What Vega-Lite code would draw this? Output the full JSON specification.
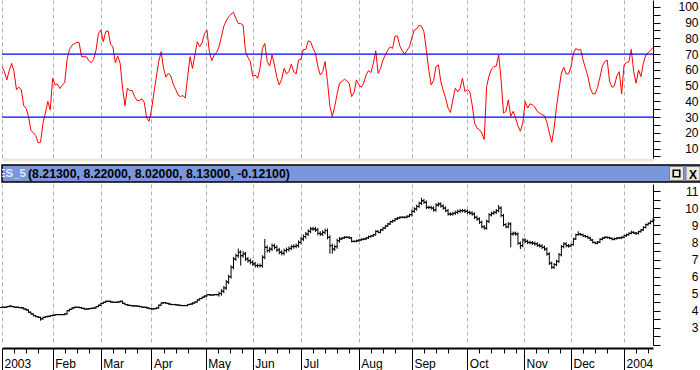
{
"$schema":"https://vega.github.io/schema/vega-lite/v6.json",
"background":"#ffffff",
"padding":0,
"spacing":0,
"config":{"view":{"stroke":null},"axis":{"labelFont":"Liberation Sans","labelFontSize":12,"labelColor":"#000000","domainColor":"#000000","tickColor":"#000000","title":null}},
"datasets":{
"lv":[{"level":70},{"level":30}],
"hdr":[{"name":"ES_5","vals":"(8.21300, 8.22000, 8.02000, 8.13000, -0.12100)","b":"X"}],
"px":[
{"d":0,"r":62,"o":4.2,"h":4.25,"l":4.16,"c":4.21},
{"d":1,"r":58.8,"o":4.21,"h":4.25,"l":4.17,"c":4.21},
{"d":2,"r":53.6,"o":4.21,"h":4.29,"l":4.17,"c":4.25},
{"d":3,"r":59.5,"o":4.25,"h":4.32,"l":4.21,"c":4.28},
{"d":4,"r":64,"o":4.28,"h":4.32,"l":4.21,"c":4.25},
{"d":5,"r":58.8,"o":4.25,"h":4.29,"l":4.17,"c":4.21},
{"d":6,"r":47.3,"o":4.21,"h":4.25,"l":4.17,"c":4.21},
{"d":7,"r":49,"o":4.21,"h":4.25,"l":4.15,"c":4.19},
{"d":8,"r":47.3,"o":4.19,"h":4.23,"l":4.13,"c":4.17},
{"d":9,"r":37.2,"o":4.17,"h":4.21,"l":4.07,"c":4.11},
{"d":10,"r":35.5,"o":4.11,"h":4.15,"l":4.01,"c":4.05},
{"d":11,"r":30.4,"o":4.05,"h":4.09,"l":3.88,"c":3.92},
{"d":12,"r":21.6,"o":3.92,"h":3.96,"l":3.78,"c":3.82},
{"d":13,"r":19.9,"o":3.82,"h":3.86,"l":3.68,"c":3.72},
{"d":14,"r":18.2,"o":3.72,"h":3.76,"l":3.62,"c":3.66},
{"d":15,"r":13.6,"o":3.66,"h":3.7,"l":3.58,"c":3.62},
{"d":16,"r":14,"o":3.62,"h":3.66,"l":3.42,"c":3.53},
{"d":17,"r":26.2,"o":3.53,"h":3.66,"l":3.49,"c":3.62},
{"d":18,"r":32.5,"o":3.62,"h":3.7,"l":3.58,"c":3.66},
{"d":19,"r":39.9,"o":3.66,"h":3.72,"l":3.62,"c":3.68},
{"d":20,"r":34.6,"o":3.68,"h":3.76,"l":3.64,"c":3.72},
{"d":21,"r":54.6,"o":3.72,"h":3.78,"l":3.68,"c":3.74},
{"d":22,"r":50.4,"o":3.74,"h":3.82,"l":3.7,"c":3.78},
{"d":23,"r":51,"o":3.78,"h":3.82,"l":3.74,"c":3.78},
{"d":24,"r":48.1,"o":3.78,"h":3.82,"l":3.74,"c":3.78},
{"d":25,"r":50.2,"o":3.78,"h":3.82,"l":3.74,"c":3.78},
{"d":26,"r":51.9,"o":3.78,"h":3.86,"l":3.74,"c":3.82},
{"d":27,"r":66.6,"o":3.82,"h":4.05,"l":3.78,"c":4.01},
{"d":28,"r":72.9,"o":4.01,"h":4.13,"l":3.97,"c":4.09},
{"d":29,"r":75.5,"o":4.09,"h":4.21,"l":4.05,"c":4.17},
{"d":30,"r":76.5,"o":4.17,"h":4.25,"l":4.13,"c":4.21},
{"d":31,"r":77.4,"o":4.21,"h":4.25,"l":4.17,"c":4.21},
{"d":32,"r":77.2,"o":4.21,"h":4.25,"l":4.15,"c":4.19},
{"d":33,"r":68.3,"o":4.19,"h":4.23,"l":4.11,"c":4.15},
{"d":34,"r":68.3,"o":4.15,"h":4.19,"l":4.07,"c":4.11},
{"d":35,"r":68.3,"o":4.11,"h":4.15,"l":4.07,"c":4.11},
{"d":36,"r":65.8,"o":4.11,"h":4.17,"l":4.07,"c":4.13},
{"d":37,"r":64.5,"o":4.13,"h":4.19,"l":4.09,"c":4.15},
{"d":38,"r":66.6,"o":4.15,"h":4.21,"l":4.11,"c":4.17},
{"d":39,"r":72.5,"o":4.17,"h":4.29,"l":4.13,"c":4.25},
{"d":40,"r":83,"o":4.25,"h":4.37,"l":4.21,"c":4.33},
{"d":41,"r":85.2,"o":4.33,"h":4.48,"l":4.29,"c":4.44},
{"d":42,"r":77.8,"o":4.44,"h":4.54,"l":4.4,"c":4.5},
{"d":43,"r":84.1,"o":4.5,"h":4.6,"l":4.46,"c":4.56},
{"d":44,"r":84.7,"o":4.56,"h":4.6,"l":4.52,"c":4.56},
{"d":45,"r":76.3,"o":4.56,"h":4.6,"l":4.48,"c":4.52},
{"d":46,"r":74.6,"o":4.52,"h":4.56,"l":4.46,"c":4.5},
{"d":47,"r":64.5,"o":4.5,"h":4.54,"l":4.46,"c":4.5},
{"d":48,"r":68.7,"o":4.5,"h":4.56,"l":4.46,"c":4.52},
{"d":49,"r":64.1,"o":4.52,"h":4.6,"l":4.48,"c":4.56},
{"d":50,"r":48.3,"o":4.56,"h":4.6,"l":4.4,"c":4.44},
{"d":51,"r":37.2,"o":4.44,"h":4.48,"l":4.33,"c":4.37},
{"d":52,"r":48.3,"o":4.37,"h":4.41,"l":4.29,"c":4.33},
{"d":53,"r":46.8,"o":4.33,"h":4.37,"l":4.27,"c":4.31},
{"d":54,"r":46.8,"o":4.31,"h":4.35,"l":4.25,"c":4.29},
{"d":55,"r":43,"o":4.29,"h":4.33,"l":4.25,"c":4.29},
{"d":56,"r":40.5,"o":4.29,"h":4.33,"l":4.23,"c":4.27},
{"d":57,"r":40.5,"o":4.27,"h":4.31,"l":4.21,"c":4.25},
{"d":58,"r":41.6,"o":4.25,"h":4.29,"l":4.17,"c":4.21},
{"d":59,"r":39.3,"o":4.21,"h":4.25,"l":4.17,"c":4.21},
{"d":60,"r":29.4,"o":4.21,"h":4.25,"l":4.13,"c":4.17},
{"d":61,"r":27.3,"o":4.17,"h":4.21,"l":4.09,"c":4.13},
{"d":62,"r":34.6,"o":4.13,"h":4.17,"l":4.07,"c":4.11},
{"d":63,"r":45.2,"o":4.11,"h":4.17,"l":4.07,"c":4.13},
{"d":64,"r":55.3,"o":4.13,"h":4.21,"l":4.09,"c":4.17},
{"d":65,"r":65.2,"o":4.17,"h":4.37,"l":4.13,"c":4.33},
{"d":66,"r":71.5,"o":4.33,"h":4.5,"l":4.29,"c":4.46},
{"d":67,"r":60.9,"o":4.46,"h":4.52,"l":4.42,"c":4.48},
{"d":68,"r":55.3,"o":4.48,"h":4.52,"l":4.4,"c":4.44},
{"d":69,"r":57.8,"o":4.44,"h":4.48,"l":4.36,"c":4.4},
{"d":70,"r":56.1,"o":4.4,"h":4.44,"l":4.33,"c":4.37},
{"d":71,"r":51,"o":4.37,"h":4.41,"l":4.33,"c":4.37},
{"d":72,"r":47.7,"o":4.37,"h":4.41,"l":4.31,"c":4.35},
{"d":73,"r":44.1,"o":4.35,"h":4.39,"l":4.29,"c":4.33},
{"d":74,"r":43,"o":4.33,"h":4.37,"l":4.27,"c":4.31},
{"d":75,"r":43.7,"o":4.31,"h":4.35,"l":4.27,"c":4.31},
{"d":76,"r":42,"o":4.31,"h":4.35,"l":4.27,"c":4.31},
{"d":77,"r":55.7,"o":4.31,"h":4.41,"l":4.27,"c":4.37},
{"d":78,"r":68.3,"o":4.37,"h":4.44,"l":4.33,"c":4.4},
{"d":79,"r":60.9,"o":4.4,"h":4.5,"l":4.36,"c":4.46},
{"d":80,"r":69.4,"o":4.46,"h":4.56,"l":4.42,"c":4.52},
{"d":81,"r":77.8,"o":4.52,"h":4.68,"l":4.48,"c":4.64},
{"d":82,"r":74.6,"o":4.64,"h":4.76,"l":4.6,"c":4.72},
{"d":83,"r":77.2,"o":4.72,"h":4.84,"l":4.68,"c":4.8},
{"d":84,"r":83,"o":4.8,"h":4.91,"l":4.76,"c":4.87},
{"d":85,"r":85.2,"o":4.87,"h":4.99,"l":4.83,"c":4.95},
{"d":86,"r":71.5,"o":4.95,"h":4.99,"l":4.89,"c":4.93},
{"d":87,"r":65.8,"o":4.93,"h":4.97,"l":4.89,"c":4.93},
{"d":88,"r":69.4,"o":4.93,"h":4.99,"l":4.89,"c":4.95},
{"d":89,"r":71,"o":4.95,"h":4.99,"l":4.91,"c":4.95},
{"d":90,"r":74.6,"o":4.95,"h":5.13,"l":4.83,"c":5.01},
{"d":91,"r":81,"o":5.01,"h":5.27,"l":4.89,"c":5.15},
{"d":92,"r":87.7,"o":5.15,"h":5.46,"l":5.03,"c":5.34},
{"d":93,"r":91,"o":5.34,"h":5.81,"l":5.22,"c":5.69},
{"d":94,"r":93.6,"o":5.69,"h":6.12,"l":5.57,"c":6},
{"d":95,"r":95.3,"o":6,"h":6.67,"l":5.88,"c":6.55},
{"d":96,"r":96.5,"o":6.55,"h":7.16,"l":6.43,"c":7.04},
{"d":97,"r":92.5,"o":7.04,"h":7.35,"l":6.92,"c":7.23},
{"d":98,"r":89.4,"o":7.23,"h":7.65,"l":7.11,"c":7.43},
{"d":99,"r":89.4,"o":7.43,"h":7.55,"l":6.65,"c":7.23},
{"d":100,"r":88.3,"o":7.23,"h":7.5,"l":7.11,"c":7.33},
{"d":101,"r":71.5,"o":7.33,"h":7.45,"l":6.92,"c":7.04},
{"d":102,"r":67.9,"o":7.04,"h":7.16,"l":6.82,"c":6.94},
{"d":103,"r":65.2,"o":6.94,"h":7.06,"l":6.72,"c":6.84},
{"d":104,"r":55.7,"o":6.84,"h":6.96,"l":6.63,"c":6.75},
{"d":105,"r":56.7,"o":6.75,"h":6.87,"l":6.53,"c":6.65},
{"d":106,"r":54.6,"o":6.65,"h":6.77,"l":6.53,"c":6.65},
{"d":107,"r":60.9,"o":6.65,"h":6.77,"l":6.53,"c":6.65},
{"d":108,"r":73.6,"o":6.65,"h":7.26,"l":6.53,"c":7.14},
{"d":109,"r":76.7,"o":7.14,"h":8.21,"l":7.02,"c":7.72},
{"d":110,"r":65.2,"o":7.72,"h":7.84,"l":7.41,"c":7.53},
{"d":111,"r":62.4,"o":7.53,"h":7.74,"l":7.41,"c":7.62},
{"d":112,"r":69.4,"o":7.62,"h":7.94,"l":7.5,"c":7.82},
{"d":113,"r":63.1,"o":7.82,"h":7.94,"l":7.6,"c":7.72},
{"d":114,"r":55,"o":7.72,"h":7.84,"l":7.45,"c":7.57},
{"d":115,"r":50.4,"o":7.57,"h":7.69,"l":7.31,"c":7.43},
{"d":116,"r":54,"o":7.43,"h":7.55,"l":7.25,"c":7.37},
{"d":117,"r":60.9,"o":7.37,"h":7.65,"l":7.25,"c":7.53},
{"d":118,"r":57.4,"o":7.53,"h":7.71,"l":7.41,"c":7.59},
{"d":119,"r":58.8,"o":7.59,"h":7.78,"l":7.47,"c":7.66},
{"d":120,"r":63.7,"o":7.66,"h":7.88,"l":7.54,"c":7.76},
{"d":121,"r":58.8,"o":7.76,"h":7.9,"l":7.64,"c":7.78},
{"d":122,"r":57.4,"o":7.78,"h":7.94,"l":7.66,"c":7.82},
{"d":123,"r":66.2,"o":7.82,"h":8.13,"l":7.7,"c":8.01},
{"d":124,"r":66.6,"o":8.01,"h":8.33,"l":7.89,"c":8.21},
{"d":125,"r":72.9,"o":8.21,"h":8.47,"l":8.09,"c":8.35},
{"d":126,"r":72.9,"o":8.35,"h":8.62,"l":8.23,"c":8.5},
{"d":127,"r":78.4,"o":8.5,"h":8.78,"l":8.38,"c":8.66},
{"d":128,"r":77.8,"o":8.66,"h":8.92,"l":8.54,"c":8.8},
{"d":129,"r":73.6,"o":8.8,"h":8.92,"l":8.68,"c":8.8},
{"d":130,"r":70.4,"o":8.8,"h":8.92,"l":8.62,"c":8.74},
{"d":131,"r":62,"o":8.74,"h":8.86,"l":8.42,"c":8.54},
{"d":132,"r":56.7,"o":8.54,"h":8.66,"l":8.38,"c":8.5},
{"d":133,"r":58.8,"o":8.5,"h":8.72,"l":8.38,"c":8.6},
{"d":134,"r":65.2,"o":8.6,"h":8.82,"l":8.48,"c":8.7},
{"d":135,"r":52.5,"o":8.7,"h":8.82,"l":8.19,"c":8.31},
{"d":136,"r":36.7,"o":8.31,"h":8.43,"l":7.35,"c":7.82},
{"d":137,"r":30.4,"o":7.82,"h":7.94,"l":7.35,"c":7.62},
{"d":138,"r":36.7,"o":7.62,"h":7.88,"l":7.5,"c":7.76},
{"d":139,"r":44.7,"o":7.76,"h":8.23,"l":7.64,"c":8.11},
{"d":140,"r":51.5,"o":8.11,"h":8.33,"l":7.99,"c":8.21},
{"d":141,"r":52.5,"o":8.21,"h":8.33,"l":8.15,"c":8.27},
{"d":142,"r":54,"o":8.27,"h":8.37,"l":8.21,"c":8.31},
{"d":143,"r":52.9,"o":8.31,"h":8.37,"l":8.25,"c":8.31},
{"d":144,"r":51.5,"o":8.31,"h":8.37,"l":8.21,"c":8.27},
{"d":145,"r":43,"o":8.27,"h":8.33,"l":8.01,"c":8.07},
{"d":146,"r":45.5,"o":8.07,"h":8.13,"l":8.01,"c":8.07},
{"d":147,"r":53.6,"o":8.07,"h":8.17,"l":8.01,"c":8.11},
{"d":148,"r":50.4,"o":8.11,"h":8.21,"l":8.05,"c":8.15},
{"d":149,"r":48.9,"o":8.15,"h":8.25,"l":8.09,"c":8.19},
{"d":150,"r":51.5,"o":8.19,"h":8.27,"l":8.13,"c":8.21},
{"d":151,"r":56.7,"o":8.21,"h":8.33,"l":8.15,"c":8.27},
{"d":152,"r":59.5,"o":8.27,"h":8.41,"l":8.21,"c":8.35},
{"d":153,"r":58.2,"o":8.35,"h":8.45,"l":8.29,"c":8.39},
{"d":154,"r":64.1,"o":8.39,"h":8.52,"l":8.33,"c":8.46},
{"d":155,"r":72.1,"o":8.46,"h":8.72,"l":8.4,"c":8.66},
{"d":156,"r":57.8,"o":8.66,"h":8.72,"l":8.54,"c":8.6},
{"d":157,"r":60.9,"o":8.6,"h":8.8,"l":8.54,"c":8.74},
{"d":158,"r":66.2,"o":8.74,"h":8.91,"l":8.68,"c":8.85},
{"d":159,"r":69.4,"o":8.85,"h":9.03,"l":8.79,"c":8.97},
{"d":160,"r":72.5,"o":8.97,"h":9.15,"l":8.91,"c":9.09},
{"d":161,"r":74.6,"o":9.09,"h":9.28,"l":9.03,"c":9.22},
{"d":162,"r":73.6,"o":9.22,"h":9.34,"l":9.16,"c":9.28},
{"d":163,"r":81.4,"o":9.28,"h":9.44,"l":9.22,"c":9.38},
{"d":164,"r":81.4,"o":9.38,"h":9.5,"l":9.32,"c":9.44},
{"d":165,"r":75.1,"o":9.44,"h":9.54,"l":9.38,"c":9.48},
{"d":166,"r":72.1,"o":9.48,"h":9.54,"l":9.42,"c":9.48},
{"d":167,"r":70,"o":9.48,"h":9.54,"l":9.42,"c":9.48},
{"d":168,"r":72.5,"o":9.48,"h":9.6,"l":9.42,"c":9.54},
{"d":169,"r":74.6,"o":9.54,"h":9.69,"l":9.48,"c":9.63},
{"d":170,"r":80.5,"o":9.63,"h":9.93,"l":9.53,"c":9.83},
{"d":171,"r":85.2,"o":9.83,"h":10.07,"l":9.73,"c":9.97},
{"d":172,"r":86,"o":9.97,"h":10.22,"l":9.87,"c":10.12},
{"d":173,"r":88.3,"o":10.12,"h":10.4,"l":10.02,"c":10.3},
{"d":174,"r":87.7,"o":10.3,"h":10.62,"l":10.2,"c":10.45},
{"d":175,"r":84.1,"o":10.45,"h":10.55,"l":10.26,"c":10.36},
{"d":176,"r":72.5,"o":10.36,"h":10.46,"l":9.96,"c":10.06},
{"d":177,"r":59.9,"o":10.06,"h":10.16,"l":9.96,"c":10.06},
{"d":178,"r":50.4,"o":10.06,"h":10.16,"l":9.92,"c":10.02},
{"d":179,"r":53.2,"o":10.02,"h":10.12,"l":9.81,"c":9.91},
{"d":180,"r":62,"o":9.91,"h":10.3,"l":9.81,"c":10.2},
{"d":181,"r":63.1,"o":10.2,"h":10.36,"l":10.1,"c":10.26},
{"d":182,"r":52.5,"o":10.26,"h":10.36,"l":10.04,"c":10.14},
{"d":183,"r":46.8,"o":10.14,"h":10.24,"l":9.92,"c":10.02},
{"d":184,"r":42,"o":10.02,"h":10.12,"l":9.77,"c":9.87},
{"d":185,"r":35.7,"o":9.87,"h":9.97,"l":9.57,"c":9.67},
{"d":186,"r":32.9,"o":9.67,"h":9.77,"l":9.57,"c":9.67},
{"d":187,"r":40.9,"o":9.67,"h":9.81,"l":9.57,"c":9.71},
{"d":188,"r":48.3,"o":9.71,"h":9.87,"l":9.61,"c":9.77},
{"d":189,"r":46,"o":9.77,"h":9.93,"l":9.67,"c":9.83},
{"d":190,"r":48.3,"o":9.83,"h":9.97,"l":9.73,"c":9.87},
{"d":191,"r":54.6,"o":9.87,"h":9.97,"l":9.77,"c":9.87},
{"d":192,"r":46.2,"o":9.87,"h":9.97,"l":9.73,"c":9.83},
{"d":193,"r":47.3,"o":9.83,"h":9.93,"l":9.67,"c":9.77},
{"d":194,"r":46.2,"o":9.77,"h":9.87,"l":9.63,"c":9.73},
{"d":195,"r":37.8,"o":9.73,"h":9.83,"l":9.57,"c":9.67},
{"d":196,"r":26.2,"o":9.67,"h":9.77,"l":9.38,"c":9.48},
{"d":197,"r":23,"o":9.48,"h":9.58,"l":9.28,"c":9.38},
{"d":198,"r":22,"o":9.38,"h":9.48,"l":9.09,"c":9.19},
{"d":199,"r":19.9,"o":9.19,"h":9.29,"l":8.83,"c":8.93},
{"d":200,"r":15.7,"o":8.93,"h":9.03,"l":8.75,"c":8.85},
{"d":201,"r":49.4,"o":8.85,"h":9.34,"l":8.75,"c":9.24},
{"d":202,"r":56.1,"o":9.24,"h":9.73,"l":9.14,"c":9.63},
{"d":203,"r":60.3,"o":9.63,"h":9.81,"l":9.53,"c":9.71},
{"d":204,"r":62,"o":9.71,"h":9.87,"l":9.61,"c":9.77},
{"d":205,"r":62.4,"o":9.77,"h":9.97,"l":9.67,"c":9.87},
{"d":206,"r":69.4,"o":9.87,"h":10.2,"l":9.77,"c":10.02},
{"d":207,"r":53.6,"o":10.02,"h":10.12,"l":9.48,"c":9.58},
{"d":208,"r":32.5,"o":9.58,"h":9.68,"l":8.95,"c":9.05},
{"d":209,"r":33.6,"o":9.05,"h":9.15,"l":8.83,"c":8.93},
{"d":210,"r":40.9,"o":8.93,"h":9.19,"l":8.83,"c":9.09},
{"d":211,"r":30.4,"o":9.09,"h":9.19,"l":7.72,"c":8.5},
{"d":212,"r":33.6,"o":8.5,"h":8.64,"l":8.4,"c":8.54},
{"d":213,"r":29.4,"o":8.54,"h":8.64,"l":8.4,"c":8.5},
{"d":214,"r":24.5,"o":8.5,"h":8.6,"l":7.86,"c":7.96},
{"d":215,"r":21,"o":7.96,"h":8.06,"l":7.62,"c":7.82},
{"d":216,"r":26.2,"o":7.82,"h":8.25,"l":7.72,"c":8.15},
{"d":217,"r":39.9,"o":8.15,"h":8.25,"l":7.97,"c":8.07},
{"d":218,"r":35.7,"o":8.07,"h":8.17,"l":7.91,"c":8.01},
{"d":219,"r":38.4,"o":8.01,"h":8.11,"l":7.89,"c":7.99},
{"d":220,"r":37.8,"o":7.99,"h":8.09,"l":7.86,"c":7.96},
{"d":221,"r":36.3,"o":7.96,"h":8.06,"l":7.82,"c":7.92},
{"d":222,"r":33.6,"o":7.92,"h":8.02,"l":7.74,"c":7.84},
{"d":223,"r":32.5,"o":7.84,"h":7.94,"l":7.7,"c":7.8},
{"d":224,"r":31.5,"o":7.8,"h":7.9,"l":7.62,"c":7.72},
{"d":225,"r":30.8,"o":7.72,"h":7.82,"l":7.52,"c":7.62},
{"d":226,"r":26.6,"o":7.62,"h":7.72,"l":7.23,"c":7.33},
{"d":227,"r":19.9,"o":7.33,"h":7.43,"l":6.69,"c":6.79},
{"d":228,"r":14,"o":6.79,"h":6.89,"l":6.45,"c":6.55},
{"d":229,"r":23,"o":6.55,"h":6.81,"l":6.45,"c":6.71},
{"d":230,"r":36.7,"o":6.71,"h":7,"l":6.61,"c":6.9},
{"d":231,"r":47.3,"o":6.9,"h":7.39,"l":6.8,"c":7.29},
{"d":232,"r":57.8,"o":7.29,"h":7.86,"l":7.19,"c":7.76},
{"d":233,"r":61.6,"o":7.76,"h":8.02,"l":7.66,"c":7.92},
{"d":234,"r":57.4,"o":7.92,"h":8.02,"l":7.72,"c":7.82},
{"d":235,"r":57.4,"o":7.82,"h":7.92,"l":7.7,"c":7.8},
{"d":236,"r":62,"o":7.8,"h":7.94,"l":7.74,"c":7.88},
{"d":237,"r":70.4,"o":7.88,"h":8.27,"l":7.82,"c":8.21},
{"d":238,"r":73.6,"o":8.21,"h":8.52,"l":8.15,"c":8.46},
{"d":239,"r":72.5,"o":8.46,"h":8.66,"l":8.4,"c":8.5},
{"d":240,"r":72.9,"o":8.5,"h":8.56,"l":8.4,"c":8.46},
{"d":241,"r":66.2,"o":8.46,"h":8.52,"l":8.33,"c":8.39},
{"d":242,"r":60.9,"o":8.39,"h":8.45,"l":8.29,"c":8.35},
{"d":243,"r":55.7,"o":8.35,"h":8.41,"l":8.21,"c":8.27},
{"d":244,"r":48.3,"o":8.27,"h":8.33,"l":8.09,"c":8.15},
{"d":245,"r":44.7,"o":8.15,"h":8.21,"l":7.95,"c":8.01},
{"d":246,"r":44.7,"o":8.01,"h":8.07,"l":7.9,"c":7.96},
{"d":247,"r":48.9,"o":7.96,"h":8.09,"l":7.9,"c":8.03},
{"d":248,"r":55.3,"o":8.03,"h":8.25,"l":7.97,"c":8.19},
{"d":249,"r":62.4,"o":8.19,"h":8.33,"l":8.13,"c":8.27},
{"d":250,"r":65.2,"o":8.27,"h":8.37,"l":8.21,"c":8.31},
{"d":251,"r":66.2,"o":8.31,"h":8.37,"l":8.23,"c":8.29},
{"d":252,"r":52.5,"o":8.29,"h":8.35,"l":8.19,"c":8.25},
{"d":253,"r":48.9,"o":8.25,"h":8.31,"l":8.13,"c":8.19},
{"d":254,"r":49.8,"o":8.19,"h":8.29,"l":8.13,"c":8.23},
{"d":255,"r":56.1,"o":8.23,"h":8.33,"l":8.17,"c":8.27},
{"d":256,"r":58.8,"o":8.27,"h":8.33,"l":8.21,"c":8.27},
{"d":257,"r":44.7,"o":8.27,"h":8.37,"l":8.21,"c":8.31},
{"d":258,"r":63.1,"o":8.31,"h":8.46,"l":8.25,"c":8.4},
{"d":259,"r":64.5,"o":8.4,"h":8.52,"l":8.34,"c":8.46},
{"d":260,"r":65.2,"o":8.46,"h":8.6,"l":8.4,"c":8.54},
{"d":261,"r":72.9,"o":8.54,"h":8.7,"l":8.48,"c":8.6},
{"d":262,"r":58.8,"o":8.6,"h":8.66,"l":8.5,"c":8.56},
{"d":263,"r":51.5,"o":8.56,"h":8.62,"l":8.44,"c":8.54},
{"d":264,"r":59.9,"o":8.54,"h":8.7,"l":8.48,"c":8.64},
{"d":265,"r":55.7,"o":8.64,"h":8.8,"l":8.58,"c":8.74},
{"d":266,"r":64.1,"o":8.74,"h":8.95,"l":8.68,"c":8.89},
{"d":267,"r":69.4,"o":8.89,"h":9.11,"l":8.83,"c":9.05},
{"d":268,"r":70.8,"o":9.05,"h":9.19,"l":8.99,"c":9.13},
{"d":269,"r":72.5,"o":9.13,"h":9.3,"l":9.07,"c":9.24},
{"d":270,"r":74,"o":9.24,"h":9.42,"l":9.18,"c":9.32}
]},
"vconcat":[
{
"width":651,"height":158,
"layer":[
{"data":{"name":"px"},"mark":{"type":"line","color":"#ff0000","strokeWidth":1,"clip":true},
 "encoding":{
  "x":{"field":"d","type":"quantitative","scale":{"domain":[0,270],"nice":false,"zero":false},
   "axis":{"orient":"bottom","values":[0,21,41,62,84.5,104,124,148,170,193,216.5,236,258],"grid":true,"gridDash":[4,3],"gridColor":"#b0b0b0","gridWidth":1,"labels":false,"ticks":false,"domain":true,"domainColor":"#ece9d8","domainWidth":3,"offset":1.5,"title":null}},
  "y":{"field":"r","type":"quantitative","scale":{"domain":[4,104.3],"nice":false,"zero":false},
   "axis":{"orient":"right","values":[5,10,15,20,25,30,35,40,45,50,55,60,65,70,75,80,85,90,95,100],"labelExpr":"(datum.value % 10 == 0) ? datum.label : ''","tickSize":7,"labelAlign":"right","labelPadding":38,"labelBaseline":"middle","grid":false,"domainWidth":1,"labelOverlap":false,"labelBound":false,"labelFlush":false,"title":null}}
 }},
{"data":{"name":"lv"},"mark":{"type":"rule","color":"#0000ff","strokeWidth":1.2},
 "encoding":{"y":{"field":"level","type":"quantitative","scale":{"domain":[4,104.3],"nice":false,"zero":false},
   "axis":{"orient":"right","values":[5,10,15,20,25,30,35,40,45,50,55,60,65,70,75,80,85,90,95,100],"labelExpr":"(datum.value % 10 == 0) ? datum.label : ''","tickSize":7,"labelAlign":"right","labelPadding":38,"labelBaseline":"middle","grid":false,"domainWidth":1,"labelOverlap":false,"labelBound":false,"labelFlush":false,"title":null}}}}
]
},
{
"width":700,"height":17,
"view":{"fill":"#7b97dc","stroke":"#000000","strokeWidth":1.5},
"data":{"name":"hdr"},
"layer":[
{"mark":{"type":"text","align":"right","baseline":"middle","dx":24,"font":"Liberation Sans","fontSize":11.5,"fontWeight":"bold","color":"#dfe7fa","clip":true},
 "encoding":{"x":{"datum":0,"type":"quantitative","scale":{"domain":[0,1],"nice":false},"axis":null},"y":{"datum":0.5,"type":"quantitative","scale":{"domain":[0,1],"nice":false},"axis":null},"text":{"field":"name"}}},
{"mark":{"type":"text","align":"left","baseline":"middle","dx":26,"font":"Liberation Sans","fontSize":12.3,"fontWeight":"bold","color":"#000000"},
 "encoding":{"x":{"datum":0,"type":"quantitative","axis":null},"y":{"datum":0.5,"type":"quantitative","axis":null},"text":{"field":"vals"}}},
{"mark":{"type":"point","shape":"square","size":196,"filled":true,"fill":"#ece9d8","stroke":"#7f7f7f","strokeWidth":1,"opacity":1,"xOffset":-25.5},
 "encoding":{"x":{"datum":1,"type":"quantitative","axis":null},"y":{"datum":0.5,"type":"quantitative","axis":null}}},
{"mark":{"type":"point","shape":"square","size":196,"filled":true,"fill":"#ece9d8","stroke":"#7f7f7f","strokeWidth":1,"opacity":1,"xOffset":-9},
 "encoding":{"x":{"datum":1,"type":"quantitative","axis":null},"y":{"datum":0.5,"type":"quantitative","axis":null}}},
{"mark":{"type":"point","shape":"square","size":42,"filled":false,"stroke":"#000000","strokeWidth":1.6,"opacity":1,"xOffset":-25.5},
 "encoding":{"x":{"datum":1,"type":"quantitative","axis":null},"y":{"datum":0.5,"type":"quantitative","axis":null}}},
{"mark":{"type":"text","align":"center","baseline":"middle","xOffset":-9,"dy":1,"font":"Liberation Sans","fontSize":12,"fontWeight":"bold","color":"#000000"},
 "encoding":{"x":{"datum":1,"type":"quantitative","axis":null},"y":{"datum":0.5,"type":"quantitative","axis":null},"text":{"field":"b"}}}
]
},
{
"width":651,"height":161,
"data":{"name":"px"},
"encoding":{
  "x":{"field":"d","type":"quantitative","scale":{"domain":[0,270],"nice":false,"zero":false},
   "axis":{"orient":"bottom","offset":3,
    "values":[0,5,10,15,21,26,31,36,41,46,51,56,62,67,72,77,84.5,89.5,94.5,99.5,104,109,114,119,124,129,134,139,144,148,153,158,163,170,175,180,185,193,198,203,208,213,216.5,221.5,226.5,231.5,236,241,246,251,258,263,268],
    "labelExpr":"['2003','Feb','Mar','Apr','May','Jun','Jul','Aug','Sep','Oct','Nov','Dec','2004'][indexof([0,21,41,62,84.5,104,124,148,170,193,216.5,236,258], datum.value)] || ''",
    "labelAlign":"left","labelOffset":2,"labelPadding":-12,"labelBaseline":"top","labelOverlap":false,"labelBound":false,"labelFlush":false,
    "tickSize":{"condition":{"test":"indexof([0,21,41,62,84.5,104,124,148,170,193,216.5,236,258], datum.value) >= 0","value":22},"value":5},
    "domainWidth":2,"grid":true,"gridDash":[4,3],"gridColor":"#b0b0b0",
    "gridOpacity":{"condition":{"test":"indexof([0,21,41,62,84.5,104,124,148,170,193,216.5,236,258], datum.value) < 0","value":0},"value":1},
    "title":null}}
},
"layer":[
{"mark":{"type":"rule","color":"#000000","strokeWidth":1},
 "encoding":{
  "y":{"field":"l","type":"quantitative","scale":{"domain":[2,11.43],"nice":false,"zero":false},
   "axis":{"orient":"right","values":[2,2.5,3,3.5,4,4.5,5,5.5,6,6.5,7,7.5,8,8.5,9,9.5,10,10.5,11],"format":".0f","labelExpr":"(datum.value >= 3 && datum.value % 1 == 0) ? datum.label : ''","tickSize":7,"labelAlign":"right","labelPadding":38,"labelBaseline":"middle","grid":false,"domainWidth":1,"labelOverlap":false,"labelBound":false,"labelFlush":false,"title":null}},
  "y2":{"field":"h"}}},
{"mark":{"type":"tick","orient":"horizontal","size":2,"thickness":1,"xOffset":-1,"color":"#000000","opacity":1},
 "encoding":{"y":{"field":"o","type":"quantitative","scale":{"domain":[2,11.43],"nice":false,"zero":false},
   "axis":{"orient":"right","values":[2,2.5,3,3.5,4,4.5,5,5.5,6,6.5,7,7.5,8,8.5,9,9.5,10,10.5,11],"format":".0f","labelExpr":"(datum.value >= 3 && datum.value % 1 == 0) ? datum.label : ''","tickSize":7,"labelAlign":"right","labelPadding":38,"labelBaseline":"middle","grid":false,"domainWidth":1,"labelOverlap":false,"labelBound":false,"labelFlush":false,"title":null}}}},
{"mark":{"type":"tick","orient":"horizontal","size":2,"thickness":1,"xOffset":1,"color":"#000000","opacity":1},
 "encoding":{"y":{"field":"c","type":"quantitative","scale":{"domain":[2,11.43],"nice":false,"zero":false},
   "axis":{"orient":"right","values":[2,2.5,3,3.5,4,4.5,5,5.5,6,6.5,7,7.5,8,8.5,9,9.5,10,10.5,11],"format":".0f","labelExpr":"(datum.value >= 3 && datum.value % 1 == 0) ? datum.label : ''","tickSize":7,"labelAlign":"right","labelPadding":38,"labelBaseline":"middle","grid":false,"domainWidth":1,"labelOverlap":false,"labelBound":false,"labelFlush":false,"title":null}}}}
]
}
]
}
